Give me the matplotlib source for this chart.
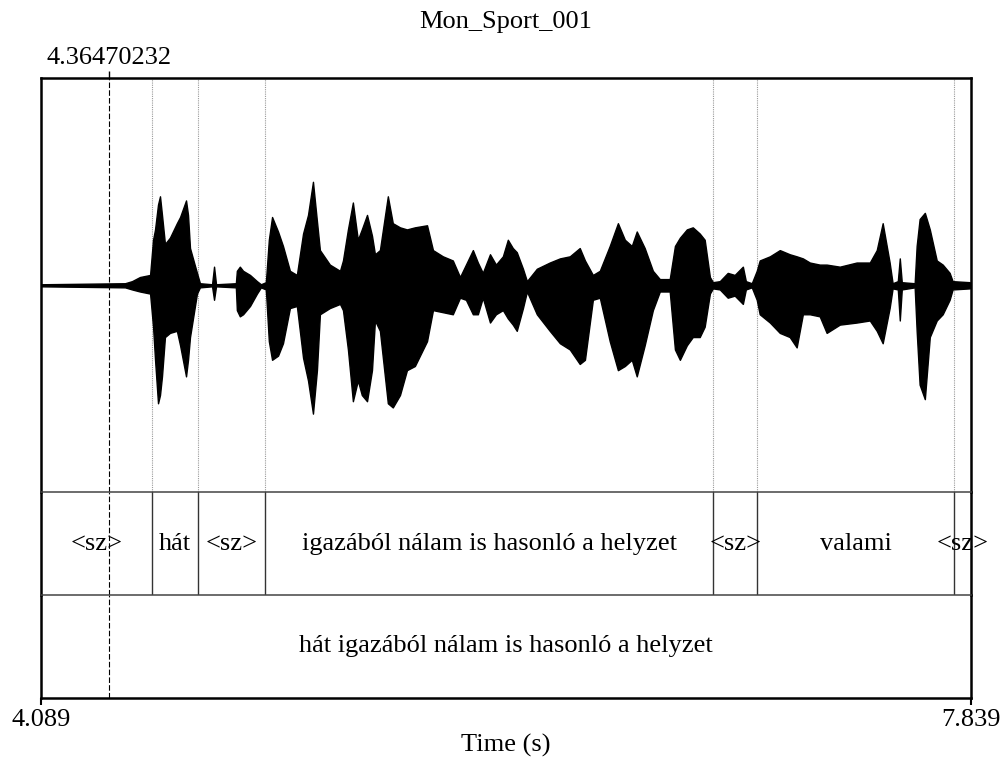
import matplotlib
matplotlib.use("Agg")
import matplotlib.pyplot as plt

plt.rcParams["font.family"] = ["Liberation Serif", "DejaVu Serif"]

# time range of the picture (s)
t_start = 4.089
t_end = 7.839
cursor_time = 4.36470232

# waveform envelope (time s, upper / lower amplitude)
wave_t = [4.089, 4.428, 4.456, 4.488, 4.529, 4.541, 4.549, 4.561, 4.569, 4.577,
          4.589, 4.609, 4.637, 4.650, 4.674, 4.682, 4.690, 4.718, 4.730, 4.779,
          4.787, 4.795, 4.875, 4.879, 4.891, 4.904, 4.932, 4.960, 4.976, 4.996,
          5.008, 5.021, 5.045, 5.065, 5.093, 5.121, 5.146, 5.166, 5.186, 5.202,
          5.214, 5.254, 5.295, 5.307, 5.327, 5.347, 5.367, 5.383, 5.404, 5.424,
          5.436, 5.456, 5.488, 5.508, 5.537, 5.565, 5.597, 5.646, 5.670, 5.710,
          5.750, 5.779, 5.803, 5.831, 5.851, 5.871, 5.900, 5.924, 5.952, 5.972,
          5.992, 6.008, 6.033, 6.049, 6.089, 6.141, 6.182, 6.222, 6.262, 6.283,
          6.315, 6.343, 6.383, 6.416, 6.444, 6.472, 6.492, 6.524, 6.557, 6.585,
          6.625, 6.646, 6.666, 6.694, 6.718, 6.746, 6.766, 6.787, 6.799, 6.827,
          6.859, 6.887, 6.920, 6.932, 6.956, 6.976, 6.988, 7.029, 7.069, 7.109,
          7.137, 7.162, 7.190, 7.230, 7.258, 7.311, 7.379, 7.432, 7.460, 7.484,
          7.512, 7.524, 7.545, 7.553, 7.561, 7.613, 7.621, 7.633, 7.654, 7.674,
          7.702, 7.726, 7.754, 7.766, 7.835, 7.839]
wave_up = [0.005, 0.01, 0.02, 0.04, 0.05, 0.22, 0.27, 0.39, 0.43, 0.34,
           0.20, 0.23, 0.30, 0.33, 0.41, 0.34, 0.18, 0.06, 0.01, 0.005,
           0.09, 0.005, 0.01, 0.07, 0.09, 0.07, 0.05, 0.02, 0.005, 0.015,
           0.22, 0.33, 0.26, 0.19, 0.07, 0.05, 0.25, 0.34, 0.50, 0.31,
           0.17, 0.10, 0.07, 0.12, 0.27, 0.40, 0.22, 0.27, 0.34, 0.24,
           0.15, 0.17, 0.43, 0.30, 0.28, 0.27, 0.28, 0.29, 0.17, 0.14,
           0.12, 0.04, 0.10, 0.17, 0.11, 0.06, 0.15, 0.10, 0.14, 0.22,
           0.18, 0.16, 0.08, 0.02, 0.08, 0.11, 0.13, 0.14, 0.18, 0.12,
           0.05, 0.07, 0.19, 0.30, 0.22, 0.19, 0.26, 0.18, 0.07, 0.03,
           0.03, 0.19, 0.23, 0.27, 0.28, 0.25, 0.22, 0.04, 0.015, 0.02,
           0.06, 0.05, 0.09, 0.02, 0.01, 0.07, 0.12, 0.14, 0.17, 0.15,
           0.14, 0.13, 0.11, 0.10, 0.10, 0.09, 0.11, 0.11, 0.17, 0.30,
           0.11, 0.01, 0.02, 0.13, 0.015, 0.01, 0.19, 0.32, 0.35, 0.27,
           0.12, 0.10, 0.06, 0.02, 0.015, 0.01]
wave_lo = [-0.005, -0.01, -0.02, -0.03, -0.04, -0.20, -0.36, -0.57, -0.53, -0.44,
           -0.25, -0.23, -0.22, -0.29, -0.44, -0.36, -0.25, -0.04, -0.01, -0.005,
           -0.07, -0.005, -0.01, -0.12, -0.15, -0.14, -0.10, -0.04, -0.01, -0.02,
           -0.27, -0.36, -0.34, -0.28, -0.11, -0.10, -0.35, -0.46, -0.62, -0.41,
           -0.14, -0.11, -0.09, -0.12, -0.31, -0.56, -0.46, -0.53, -0.56, -0.41,
           -0.17, -0.22, -0.57, -0.59, -0.53, -0.41, -0.39, -0.27, -0.12, -0.13,
           -0.14, -0.06, -0.07, -0.14, -0.14, -0.06, -0.18, -0.14, -0.12, -0.16,
           -0.19, -0.22, -0.11, -0.03, -0.14, -0.22, -0.28, -0.31, -0.38, -0.36,
           -0.07, -0.06, -0.27, -0.41, -0.39, -0.36, -0.44, -0.29, -0.12, -0.03,
           -0.03, -0.31, -0.36, -0.29, -0.25, -0.25, -0.20, -0.04, -0.015, -0.02,
           -0.06, -0.05, -0.09, -0.02, -0.01, -0.07, -0.14, -0.18, -0.23, -0.25,
           -0.30, -0.14, -0.14, -0.15, -0.23, -0.19, -0.18, -0.17, -0.22, -0.28,
           -0.11, -0.015, -0.02, -0.17, -0.02, -0.01, -0.22, -0.48, -0.55, -0.25,
           -0.17, -0.14, -0.07, -0.02, -0.015, -0.01]

# word tier: interval boundaries and labels
word_bounds = [4.089, 4.538, 4.721, 4.992, 6.801, 6.978, 7.772, 7.839]
word_labels = ["<sz>", "hát", "<sz>", "igazából nálam is hasonló a helyzet",
               "<sz>", "valami", "<sz>"]

# sentence tier
sent_bounds = [4.089, 7.839]
sent_labels = ["hát igazából nálam is hasonló a helyzet"]

FS = 19
W, H = 1003, 767
x0, x1 = 41, 970.7
y_top, y_w, y_t1, y_bot = 78.3, 492.3, 595.0, 697.7

fig = plt.figure(figsize=(W / 100, H / 100), dpi=100)


def add_ax(ya, yb):
    a = fig.add_axes([x0 / W, 1 - yb / H, (x1 - x0) / W, (yb - ya) / H])
    a.patch.set_visible(False)
    return a


ax_2 = add_ax(y_t1, y_bot)
ax_1 = add_ax(y_w, y_t1)
ax_w = add_ax(y_top, y_w)

for ax in (ax_w, ax_1, ax_2):
    ax.set_xlim(t_start, t_end)
    ax.set_yticks([])
    ax.set_xticks([])
    for side in ("left", "right", "top", "bottom"):
        ax.spines[side].set_linewidth(1.8)
        ax.spines[side].set_color("black")
        ax.spines[side].set_zorder(10)
    ax.axvline(cursor_time, color="black", lw=0.8, ls=(0, (5, 2)), zorder=5)

for ax in (ax_w, ax_1):
    ax.spines["bottom"].set_linewidth(1.1)
    ax.spines["bottom"].set_color("#444444")
ax_1.spines["top"].set_visible(False)
ax_2.spines["top"].set_visible(False)

# waveform
ax_w.set_ylim(-1, 1)
ax_w.fill_between(wave_t, wave_lo, wave_up, color="black", lw=1.0, edgecolor="black", zorder=3)
for b in word_bounds[1:-1]:
    ax_w.axvline(b, color="#9a9a9a", lw=0.8, ls=(0, (1, 1)), zorder=1)

# top cursor tick
ax_w.xaxis.set_ticks_position("top")
ax_w.set_xticks([cursor_time])
ax_w.set_xticklabels(["4.36470232"], fontsize=FS)
ax_w.tick_params(axis="x", direction="out", length=5, width=1, pad=2)

# tiers
for ax, bounds, labels in ((ax_1, word_bounds, word_labels), (ax_2, sent_bounds, sent_labels)):
    ax.set_ylim(0, 1)
    for b in bounds[1:-1]:
        ax.axvline(b, color="#333333", lw=1.0)
    for a, b, lab in zip(bounds[:-1], bounds[1:], labels):
        ax.text((a + b) / 2, 0.5, lab, ha="center", va="center", fontsize=FS)

# bottom axis
ax_2.set_xticks([t_start, t_end])
ax_2.set_xticklabels(["4.089", "7.839"], fontsize=FS)
ax_2.tick_params(axis="x", direction="out", length=5, width=1.5, pad=3)
ax_2.set_xlabel("Time (s)", fontsize=FS, labelpad=2)

fig.text(506 / W, 1 - 22 / H, "Mon_Sport_001", ha="center", va="center", fontsize=FS)

fig.savefig("out.png", dpi=100)
